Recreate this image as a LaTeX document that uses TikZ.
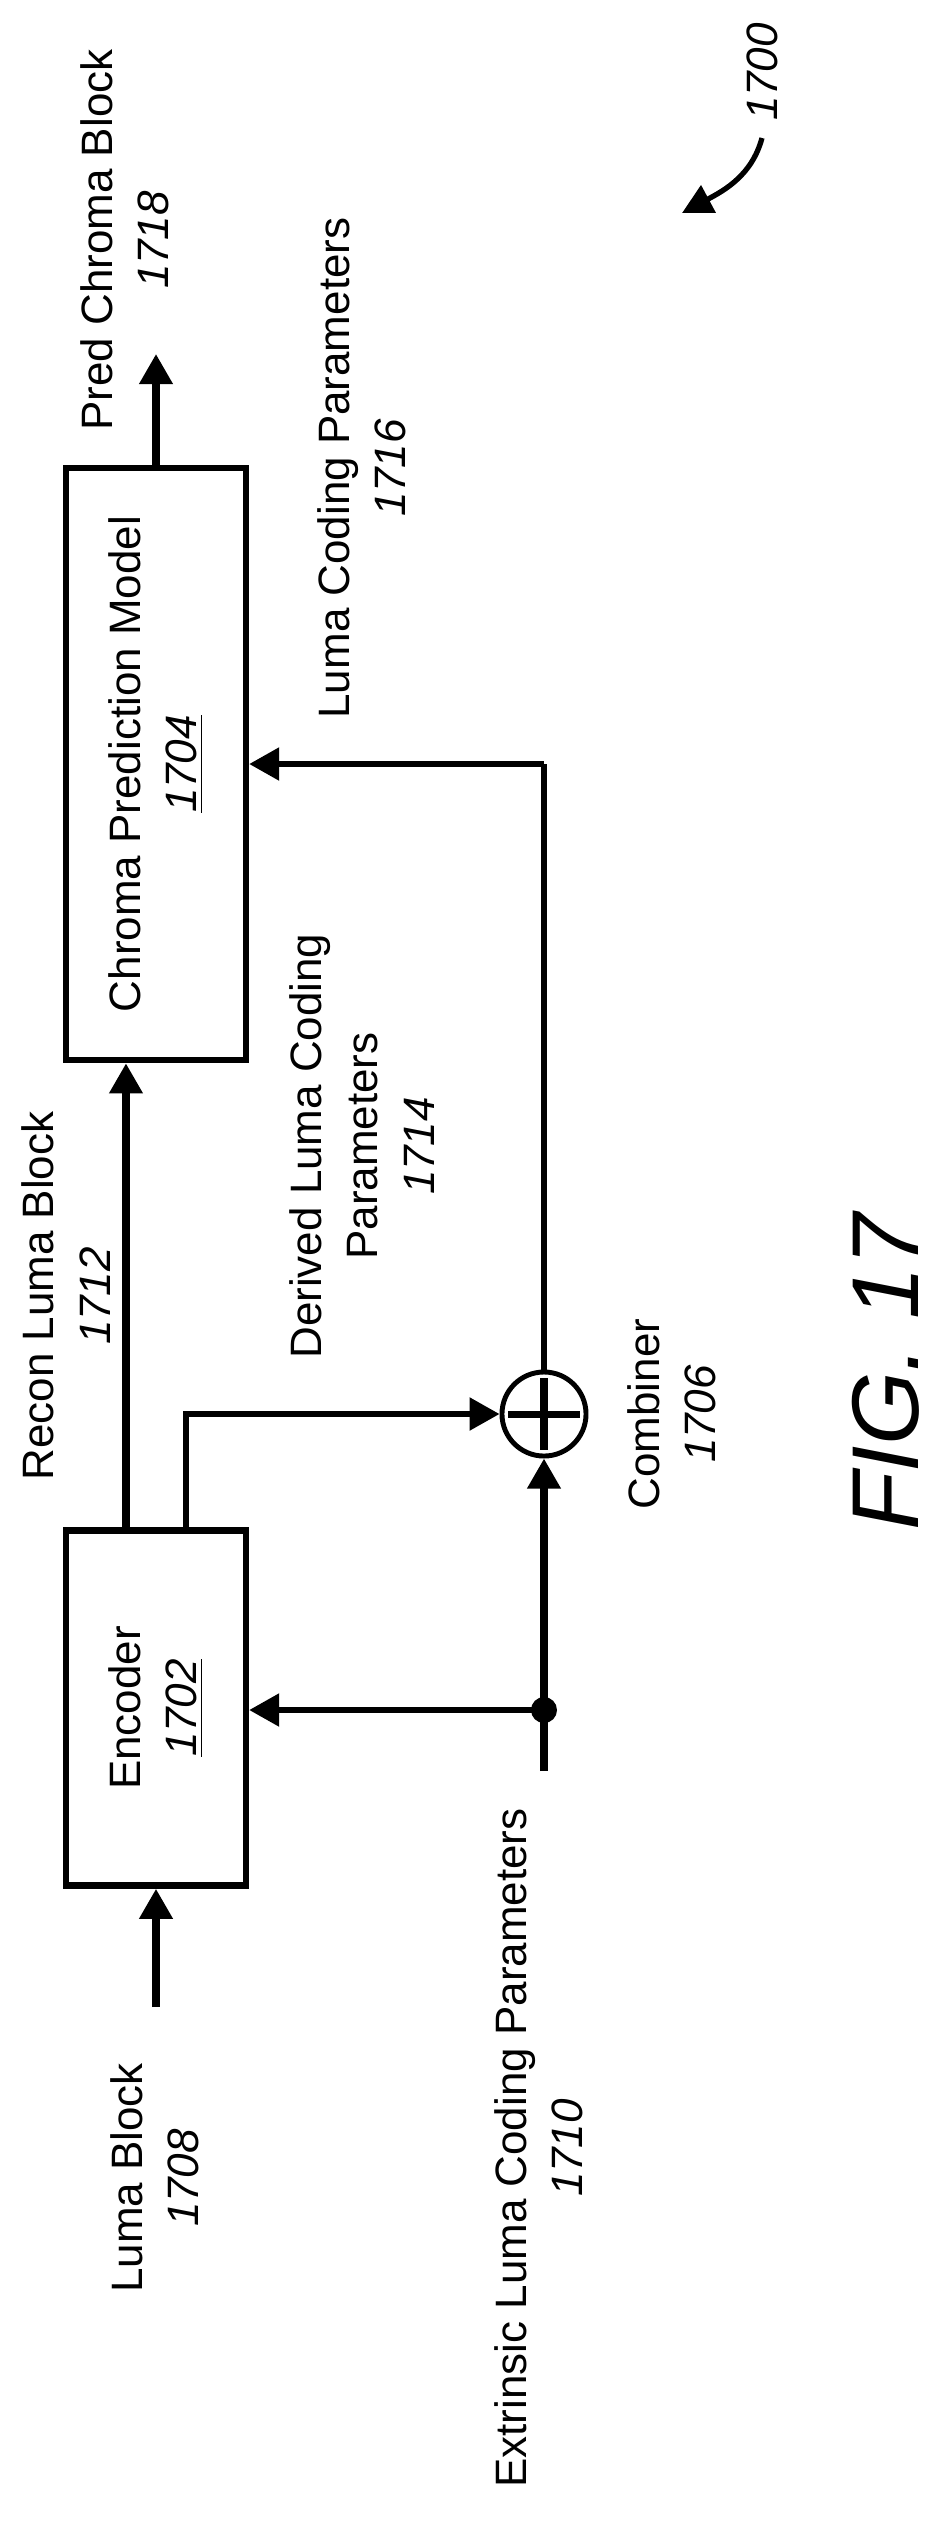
\documentclass[tikz,border=0pt]{standalone}
\usepackage{fontspec}
\setmainfont{Liberation Sans}
\usetikzlibrary{positioning,arrows.meta,calc}

\begin{document}
\begin{tikzpicture}[
    x=0.01cm, y=-0.01cm,
    font=\fontsize{12.5}{16}\selectfont,
    block/.style={rectangle, draw, line width=1.8pt, minimum width=1.80cm, inner sep=0pt},
    label/.style={rotate=90, align=center, inner sep=0pt},
    combiner/.style={circle, draw, line width=1.4pt, minimum size=0.84cm, inner sep=0pt,
        path picture={
            \draw[line width=2pt] ($(path picture bounding box.center)+(-36,0)$) -- ($(path picture bounding box.center)+(36,0)$);
            \draw[line width=2pt] ($(path picture bounding box.center)+(0,-36)$) -- ($(path picture bounding box.center)+(0,36)$);
        }},
    mainflow/.style={-{Triangle[length=0.3cm,width=0.32cm]}, line width=2pt},
    sideflow/.style={-{Triangle[length=0.3cm,width=0.32cm]}, line width=1.6pt}
]
    \useasboundingbox (0,0) rectangle (942,2523);

    % Blocks
    \node [block, minimum height=5.92cm] (chroma) at (156,764) {};
    \node [label] at (chroma) {Chroma Prediction Model\\\underline{\textit{1704}}};
    \node [block, minimum height=3.55cm] (encoder) at (156,1708) {};
    \node [label] at (encoder) {Encoder\\\underline{\textit{1702}}};
    \node [combiner] (comb) at (544,1414) {};

    % Free ends
    \coordinate (predout) at (156,354);
    \coordinate (lumain) at (156,2007);
    \coordinate (extin) at (544,1771);
    \coordinate (split) at (544,1710);

    % Labels
    \node [label] (predlbl) at (125,240) {Pred Chroma Block\\\textit{1718}};
    \node [label] (lumacp) at (362,468) {Luma Coding Parameters\\\textit{1716}};
    \node [label] (reconlbl) at (66,1296) {Recon Luma Block\\\textit{1712}};
    \node [label] (derivedlbl) at (362,1146) {Derived Luma Coding\\Parameters\\\textit{1714}};
    \node [label] (comblbl) at (672,1414) {Combiner\\\textit{1706}};
    \node [label] (lumalbl) at (155,2178) {Luma Block\\\textit{1708}};
    \node [label] (extlbl) at (539,2148) {Extrinsic Luma Coding Parameters\\\textit{1710}};
    \node [label, font=\itshape\fontsize{27}{30}\selectfont] (fig) at (886,1372) {FIG. 17};
    \node [label, font=\itshape\fontsize{12.5}{16}\selectfont] (ref) at (762,72) {1700};

    % Connections
    \draw [mainflow] (chroma.north) -- (predout);
    \draw [mainflow] (lumain) -- (encoder.south);
    \draw [mainflow] ([xshift=-0.3cm]encoder.north) -- ([xshift=-0.3cm]chroma.south);
    \draw [sideflow] ([xshift=0.3cm]encoder.north) |- (comb.west);
    \draw [mainflow] (extin) -- (comb.south);
    \draw [sideflow] (split) -- (split -| encoder.east);
    \fill (split) circle (13);
    \draw [line width=1.8pt] (comb.north) -- (comb.north |- chroma.east);
    \draw [sideflow] (comb.north |- chroma.east) -- (chroma.east);
    \draw [-{Triangle[length=0.3cm,width=0.3cm]}, line width=1.5pt]
        (762,138) .. controls (752,175) and (725,190) .. (682,213);
\end{tikzpicture}
\end{document}
